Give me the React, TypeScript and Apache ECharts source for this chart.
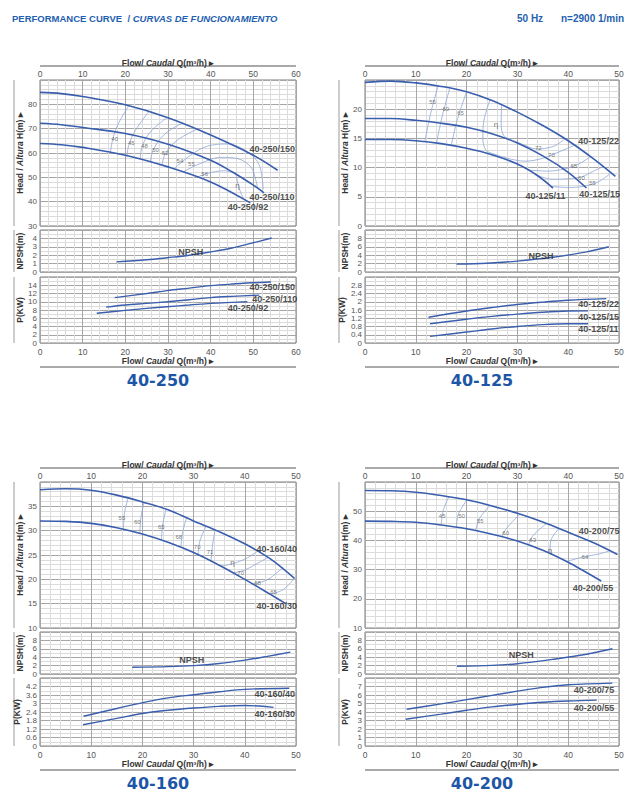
import React, { useEffect, useRef } from 'react';
import * as echarts from 'echarts';

type Pt = [number, number];
type Lab = [number, number, string];

// ---------------- 40-250 ----------------
const h250_150: Pt[] = [[0, 84.9], [5, 84.4], [10, 83.2], [20, 79.8], [30, 74.5], [40, 67.4], [50, 59.1], [55.7, 52.9]];
const h250_110: Pt[] = [[0, 72.2], [5, 71.6], [10, 70.5], [20, 68.0], [30, 63.6], [40, 57.0], [45, 52.3], [50, 46.8], [52.5, 43.6]];
const h250_92: Pt[] = [[0, 63.9], [5, 63.4], [10, 62.3], [20, 59.1], [30, 54.3], [40, 48.1], [49.3, 39.5]];
const lab250: Lab[] = [[49.0, 61.6, '40-250/150'], [49.0, 42.0, '40-250/110'], [43.9, 37.8, '40-250/92']];
const eff250: Pt[][] = [
  [[16.5, 60.3], [17.1, 66.0], [18.4, 72.2], [20.8, 79.4]],
  [[20.4, 58.6], [20.8, 63.2], [22.4, 69.4], [25.5, 77.0]],
  [[23.5, 57.4], [23.9, 62.6], [25.9, 68.7], [29.8, 74.6]],
  [[25.9, 56.4], [26.5, 61.2], [29.0, 67.4], [33.3, 72.3]],
  [[28.6, 55.0], [29.4, 59.8], [32.2, 65.3], [36.9, 69.9]],
  [[31.4, 53.5], [35.3, 59.1], [39.2, 62.8], [43.9, 63.7], [48.6, 60.5], [51.4, 55.0], [52.3, 45.0]],
  [[33.7, 52.4], [37.6, 55.7], [42.4, 58.2], [46.3, 57.7], [49.4, 54.3], [50.6, 48.8], [51.0, 45.5]],
  [[36.9, 50.1], [39.2, 51.6], [43.1, 52.7], [45.9, 51.8]],
  [[45.9, 51.6], [46.6, 46.0], [47.6, 41.3]],
];
const effLab250: Lab[] = [[17.5, 65.7, '40'], [21.4, 64.2, '45'], [24.5, 62.8, '48'], [27.1, 61.2, '50'], [29.3, 59.8, '52'], [32.8, 56.8, '54'], [35.5, 55.3, '55'], [38.6, 51.3, '56'], [46.3, 46.8, 'η']];
const np250: Pt[] = [[17.9, 1.2], [25, 1.45], [29.8, 1.7], [35, 2.0], [40, 2.4], [45, 2.85], [49.4, 3.4], [54.3, 4.05]];
const npLab250: Lab[] = [[32.3, 2.42, 'NPSH']];
const p250_150: Pt[] = [[17.5, 11.0], [25, 12.0], [29.8, 12.7], [35, 13.3], [40, 13.9], [45, 14.3], [50, 14.6], [54.1, 14.8]];
const p250_110: Pt[] = [[15.5, 8.7], [20, 9.2], [25, 9.6], [29.8, 10.0], [35, 10.5], [40, 11.0], [45, 11.3], [51.4, 11.6]];
const p250_92: Pt[] = [[13.3, 7.2], [20, 7.9], [25, 8.4], [29.8, 8.8], [35, 9.2], [40, 9.6], [45, 9.85], [48.6, 10.0]];
const pLab250: Lab[] = [[49.0, 13.5, '40-250/150'], [49.6, 10.6, '40-250/110'], [43.9, 8.5, '40-250/92']];

// ---------------- 40-125 ----------------
const h125_22: Pt[] = [[0, 24.6], [5, 24.8], [10, 24.5], [15, 23.9], [20, 23.0], [25, 21.5], [30, 19.5], [35, 17.2], [40, 14.6], [45, 11.5], [49.3, 8.5]];
const h125_15: Pt[] = [[0, 18.4], [5, 18.4], [10, 18.1], [15, 17.6], [20, 16.9], [25, 15.8], [30, 14.2], [35, 12.0], [40, 9.2], [43.6, 6.5]];
const h125_11: Pt[] = [[0, 14.8], [5, 14.8], [10, 14.6], [15, 14.1], [20, 13.3], [25, 12.2], [30, 10.6], [34, 8.6], [37, 6.5]];
const lab125: Lab[] = [[41.9, 14.6, '40-125/22'], [42.1, 5.5, '40-125/15'], [31.5, 5.1, '40-125/11']];
const eff125: Pt[][] = [
  [[11.8, 14.5], [12.9, 19.2], [14.4, 24.0]],
  [[14.1, 14.3], [15.2, 18.8], [16.7, 23.6]],
  [[17.0, 13.9], [18.2, 18.3], [20.0, 23.0]],
  [[26.9, 20.8], [26.8, 17.5], [27.3, 15.5], [29, 14.7], [31, 14.0], [33.7, 13.2], [37, 13.6], [39.3, 14.9]],
  [[24.6, 21.6], [23.4, 18.0], [23.2, 15.0], [23.8, 13.0], [25.5, 12.3], [28, 11.6], [31.5, 11.1], [35, 11.6], [38.5, 12.8], [41.4, 13.9]],
  [[32.0, 9.6], [36.0, 9.4], [41.0, 10.2], [44.3, 11.8]],
  [[33.5, 8.8], [37, 8.0], [40, 8.1], [42.6, 8.4], [45, 9.4], [46.9, 10.2]],
  [[36.5, 6.8], [40, 6.6], [43, 6.8], [46, 7.6], [48.3, 9.0]],
];
const effLab125: Lab[] = [[13.3, 21.3, '55'], [15.9, 20.1, '60'], [18.8, 19.3, '65'], [25.8, 17.3, 'η'], [34.1, 13.4, '72'], [36.7, 12.1, '70'], [41.1, 10.3, '65'], [42.6, 8.3, '60'], [44.8, 7.3, '55']];
const np125: Pt[] = [[18, 1.9], [24, 2.1], [30, 2.6], [37, 3.5], [43.6, 4.8], [48, 6.0]];
const npLab125: Lab[] = [[32.1, 3.9, 'NPSH']];
const p125_22: Pt[] = [[12.5, 1.25], [20, 1.55], [25, 1.72], [30, 1.87], [35, 1.98], [40, 2.07], [47.5, 2.15]];
const p125_15: Pt[] = [[12.8, 0.93], [20, 1.15], [25, 1.29], [30, 1.4], [35, 1.49], [40, 1.55], [43.9, 1.56]];
const p125_11: Pt[] = [[12.8, 0.32], [20, 0.53], [25, 0.68], [30, 0.8], [35, 0.89], [40, 0.93], [43.9, 0.93]];
const pLab125: Lab[] = [[41.9, 1.87, '40-125/22'], [41.9, 1.26, '40-125/15'], [41.9, 0.69, '40-125/11']];

// ---------------- 40-160 ----------------
const h160_40: Pt[] = [[0, 38.4], [5, 38.6], [10, 38.3], [15, 37.3], [20, 35.9], [25, 34.3], [30, 32.0], [35, 29.8], [40, 27.3], [45, 24.2], [49.7, 20.2]];
const h160_30: Pt[] = [[0, 32.0], [5, 31.9], [10, 31.5], [15, 30.6], [20, 29.3], [25, 27.6], [30, 25.5], [35, 22.9], [40, 20.0], [45, 16.9], [48, 15.0]];
const lab160: Lab[] = [[42.2, 26.2, '40-160/40'], [42.2, 14.5, '40-160/30']];
const eff160: Pt[][] = [
  [[16.3, 30.3], [16.5, 33.6], [17.2, 36.7]],
  [[19.5, 29.4], [19.7, 32.6], [20.3, 35.8]],
  [[23.7, 28.1], [24.0, 31.4], [24.6, 34.4]],
  [[27.5, 26.6], [27.9, 29.8], [28.6, 32.6]],
  [[30.9, 25.0], [31.2, 27.8], [32.4, 30.8]],
  [[33.4, 23.6], [33.7, 27.0], [34.2, 30.2]],
  [[35.3, 22.7], [37.9, 23.3], [40.5, 24.4], [42.5, 25.8]],
  [[37.8, 21.3], [40, 21.9], [42.5, 23.3], [44.5, 24.5]],
  [[41.5, 19.0], [44.4, 19.9], [46.4, 21.5], [47.5, 22.4]],
  [[44.8, 17.0], [47, 17.6], [48.5, 18.8], [49.7, 20.2]],
];
const effLab160: Lab[] = [[16.0, 32.7, '55'], [19.0, 31.7, '60'], [23.7, 30.7, '65'], [27.1, 28.6, '68'], [30.7, 26.6, '70'], [33.2, 25.7, '71'], [37.6, 23.5, 'η'], [39.2, 21.4, '70'], [42.5, 19.3, '68'], [45.6, 17.4, '65']];
const np160: Pt[] = [[18, 1.6], [25, 1.75], [30, 2.0], [35, 2.5], [40, 3.3], [44.4, 4.2], [48.9, 5.2]];
const npLab160: Lab[] = [[27.1, 3.36, 'NPSH']];
const p160_40: Pt[] = [[8.5, 2.1], [15, 2.65], [20.3, 3.08], [25, 3.4], [30, 3.62], [35, 3.83], [40, 4.0], [48.7, 4.08]];
const p160_30: Pt[] = [[8.4, 1.5], [15, 1.95], [20.3, 2.31], [25, 2.52], [30, 2.68], [35, 2.8], [40, 2.86], [45.6, 2.73]];
const pLab160: Lab[] = [[41.8, 3.66, '40-160/40'], [41.8, 2.26, '40-160/30']];

// ---------------- 40-200 ----------------
const h200_75: Pt[] = [[0, 57.1], [5, 57.0], [10, 56.5], [15, 55.4], [20, 53.9], [25, 51.8], [30, 49.3], [35, 46.3], [40, 42.8], [45, 39.2], [49.7, 35.2]];
const h200_55: Pt[] = [[0, 46.6], [5, 46.5], [10, 46.2], [15, 45.3], [20, 44.0], [25, 42.1], [30, 39.8], [35, 36.6], [40, 32.5], [43, 29.6], [46.5, 26.1]];
const lab200: Lab[] = [[42.0, 43.2, '40-200/75'], [40.8, 23.7, '40-200/55']];
const eff200: Pt[][] = [
  [[15.0, 45.3], [15.4, 50.2], [16.5, 55.0]],
  [[18.0, 44.5], [18.4, 49.1], [20.1, 53.9]],
  [[21.8, 43.4], [22.5, 47.4], [24.6, 52.0]],
  [[26.9, 41.3], [27.9, 44.2], [30.5, 49.0]],
  [[32.2, 38.5], [33.1, 41.7], [35.8, 45.9]],
  [[36.4, 35.7], [36.6, 40.0], [38.2, 44.1]],
  [[39.7, 32.8], [42.9, 34.3], [46.2, 35.4], [48.2, 36.5]],
];
const effLab200: Lab[] = [[15.2, 48.5, '45'], [19.0, 48.5, '50'], [22.7, 46.5, '55'], [27.7, 42.5, '60'], [33.0, 40.3, '63'], [36.4, 36.6, 'η'], [43.3, 34.3, '64']];
const np200: Pt[] = [[18.1, 1.85], [25, 2.05], [30, 2.45], [37, 3.5], [43.6, 4.7], [48.7, 6.0]];
const npLab200: Lab[] = [[28.2, 4.64, 'NPSH']];
const p200_75: Pt[] = [[8.2, 4.33], [15, 4.95], [20, 5.45], [25, 5.95], [30, 6.45], [35, 6.9], [40, 7.2], [48.7, 7.4]];
const p200_55: Pt[] = [[8.0, 3.15], [15, 3.75], [20, 4.2], [25, 4.6], [30, 4.9], [35, 5.15], [40, 5.3], [45.6, 5.4]];
const pLab200: Lab[] = [[41.0, 6.53, '40-200/75'], [41.0, 4.52, '40-200/55']];

// axis ranges: [min, max, interval, minorSplit]
const axes250 = { xMax: 60, main: [30, 90, 10, 5], np: [0, 5, 1, 2], pw: [0, 16, 2, 2] };
const axes125 = { xMax: 50, main: [0, 25, 5, 5], np: [0, 10, 2, 2], pw: [0, 3.2, 0.4, 2] };
const axes160 = { xMax: 50, main: [10, 40, 5, 5], np: [0, 10, 2, 2], pw: [0, 4.8, 0.6, 2] };
const axes200 = { xMax: 50, main: [10, 60, 10, 5], np: [0, 10, 2, 2], pw: [0, 8, 1, 2] };

const PANELS = [
  { title: '40-250', col: 0, row: 0, ax: axes250, heads: [h250_150, h250_110, h250_92], headLabels: lab250, effs: eff250, effLabels: effLab250, npsh: np250, npshLabel: npLab250, powers: [p250_150, p250_110, p250_92], powerLabels: pLab250 },
  { title: '40-125', col: 1, row: 0, ax: axes125, heads: [h125_22, h125_15, h125_11], headLabels: lab125, effs: eff125, effLabels: effLab125, npsh: np125, npshLabel: npLab125, powers: [p125_22, p125_15, p125_11], powerLabels: pLab125 },
  { title: '40-160', col: 0, row: 1, ax: axes160, heads: [h160_40, h160_30], headLabels: lab160, effs: eff160, effLabels: effLab160, npsh: np160, npshLabel: npLab160, powers: [p160_40, p160_30], powerLabels: pLab160 },
  { title: '40-200', col: 1, row: 1, ax: axes200, heads: [h200_75, h200_55], headLabels: lab200, effs: eff200, effLabels: effLab200, npsh: np200, npshLabel: npLab200, powers: [p200_75, p200_55], powerLabels: pLab200 },
];

const COLS = [{ left: 40, width: 256 }, { left: 365, width: 254 }];
const ROWS = [
  { mainTop: 80, mainH: 146, npTop: 230, npH: 42, pTop: 277, pH: 66 },
  { mainTop: 482, mainH: 146, npTop: 632, npH: 42, pTop: 678, pH: 68 },
];

const FONT = "'Liberation Sans', Arial, sans-serif";
const CURVE = '#3a5eae';
const EFF = '#8ea6d6';
const MAJ = '#a6a6a6';
const MIN = '#dcdcdc';
const BORDER = '#7d7d7d';
const BLUE = '#1f5fb0';

const nameStyle = {
  color: '#333', fontFamily: FONT, fontSize: 8.5, fontWeight: 'bold' as const,
  rich: {
    b: { color: '#333', fontFamily: FONT, fontSize: 8.5, fontWeight: 'bold' },
    i: { color: '#333', fontFamily: FONT, fontSize: 8.5, fontWeight: 'bold', fontStyle: 'italic' },
  },
};
const FLOW_NAME = '{b|Flow/ }{i|Caudal}{b| Q(m³/h) ▸}';
const HEAD_NAME = '{b|Head / }{i|Altura}{b| H(m) ▸}';

function buildOption() {
  const grid: any[] = [];
  const xAxis: any[] = [];
  const yAxis: any[] = [];
  const series: any[] = [];
  const graphic: any[] = [];

  graphic.push({
    type: 'text', x: 12, y: 18,
    style: {
      text: '{a|PERFORMANCE CURVE  / }{b|CURVAS DE FUNCIONAMIENTO}',
      textVerticalAlign: 'middle',
      rich: {
        a: { fontFamily: FONT, fontSize: 9.5, fontWeight: 'bold', fill: BLUE, color: BLUE },
        b: { fontFamily: FONT, fontSize: 9.5, fontWeight: 'bold', fontStyle: 'italic', fill: BLUE, color: BLUE },
      },
    },
  });
  graphic.push({ type: 'text', x: 517, y: 18, style: { text: '50 Hz', font: `bold 10px ${FONT}`, fill: BLUE, textVerticalAlign: 'middle' } });
  graphic.push({ type: 'text', x: 561, y: 18, style: { text: 'n=2900 1/min', font: `bold 10px ${FONT}`, fill: BLUE, textVerticalAlign: 'middle' } });

  const lineS = (gi: number, data: Pt[], color: string, width: number, z: number) => ({
    type: 'line', xAxisIndex: gi, yAxisIndex: gi, data, smooth: 0.35, symbol: 'none',
    lineStyle: { color, width }, z, silent: true,
  });
  const labelS = (gi: number, labs: Lab[], position: string, style: any, big?: any) => ({
    type: 'scatter', xAxisIndex: gi, yAxisIndex: gi, symbolSize: 1,
    itemStyle: { color: 'rgba(0,0,0,0)' }, z: 6, silent: true,
    data: labs.map((l) => {
      const item: any = { value: [l[0], l[1]], name: l[2] };
      if (big && l[2] === 'η') item.label = big;
      return item;
    }),
    label: { show: true, position, distance: 0, formatter: '{b}', ...style },
  });

  PANELS.forEach((p, pi) => {
    const c = COLS[p.col];
    const r = ROWS[p.row];
    const gi = pi * 3;
    const boxes = [
      { top: r.mainTop, height: r.mainH },
      { top: r.npTop, height: r.npH },
      { top: r.pTop, height: r.pH },
    ];
    const yCfg = [p.ax.main, p.ax.np, p.ax.pw];
    const yNames = [HEAD_NAME, 'NPSH(m)', 'P(KW)'];
    boxes.forEach((b, k) => {
      grid.push({ left: c.left, width: c.width, top: b.top, height: b.height, show: true, borderColor: BORDER, borderWidth: 1, backgroundColor: '#fff' });
      xAxis.push({
        gridIndex: gi + k, type: 'value', min: 0, max: p.ax.xMax, interval: 10,
        position: k === 0 ? 'top' : 'bottom',
        axisLine: { show: false, onZero: false }, axisTick: { show: false },
        axisLabel: { show: k !== 1, showMinLabel: true, showMaxLabel: true, margin: k === 0 ? 2 : 4, color: '#555', fontFamily: FONT, fontSize: 8.5 },
        splitLine: { show: true, lineStyle: { color: MAJ, width: 1 } },
        minorTick: { show: false, splitNumber: 5 },
        minorSplitLine: { show: true, lineStyle: { color: MIN, width: 1 } },
        name: k === 1 ? '' : FLOW_NAME, nameLocation: 'middle', nameGap: 13,
        nameTextStyle: nameStyle,
      });
      const [mn, mx, iv, ms] = yCfg[k];
      yAxis.push({
        gridIndex: gi + k, type: 'value', min: mn, max: mx, interval: iv,
        axisLine: { show: false, onZero: false }, axisTick: { show: false },
        axisLabel: { showMinLabel: true, showMaxLabel: false, margin: 3, color: '#555', fontFamily: FONT, fontSize: 8 },
        splitLine: { show: true, lineStyle: { color: MAJ, width: 1 } },
        minorTick: { show: false, splitNumber: ms },
        minorSplitLine: { show: true, lineStyle: { color: MIN, width: 1 } },
        name: yNames[k], nameLocation: 'middle', nameGap: 16, nameRotate: 90,
        nameTextStyle: nameStyle,
      });
      graphic.push({
        type: 'line', silent: true,
        shape: { x1: c.left - 26, y1: b.top, x2: c.left - 26, y2: b.top + b.height },
        style: { stroke: '#9a9a9a', lineWidth: 1 },
      });
    });

    // main
    p.effs.forEach((e) => series.push(lineS(gi, e, EFF, 0.8, 2)));
    p.heads.forEach((h) => series.push(lineS(gi, h, CURVE, 1.6, 3)));
    series.push(labelS(gi, p.effLabels, 'inside', { color: '#555', fontFamily: FONT, fontSize: 6 }, { fontSize: 8 }));
    series.push(labelS(gi, p.headLabels, 'right', { color: '#222', fontFamily: FONT, fontSize: 9, fontWeight: 'bold' }));
    // npsh
    series.push(lineS(gi + 1, p.npsh, CURVE, 1.4, 3));
    series.push(labelS(gi + 1, p.npshLabel, 'right', { color: '#222', fontFamily: FONT, fontSize: 9, fontWeight: 'bold' }));
    // power
    p.powers.forEach((pw) => series.push(lineS(gi + 2, pw, CURVE, 1.4, 3)));
    series.push(labelS(gi + 2, p.powerLabels, 'right', { color: '#222', fontFamily: FONT, fontSize: 9, fontWeight: 'bold' }));

    // decorative rules and title
    const gx1 = c.left, gx2 = c.left + c.width;
    graphic.push({ type: 'line', silent: true, shape: { x1: gx1, y1: r.mainTop - 14, x2: gx2, y2: r.mainTop - 14 }, style: { stroke: '#8c8c8c', lineWidth: 1.5 } });
    const pBottom = r.pTop + r.pH;
    graphic.push({ type: 'line', silent: true, shape: { x1: gx1, y1: pBottom + 24, x2: gx2, y2: pBottom + 24 }, style: { stroke: '#8c8c8c', lineWidth: 1.5 } });
    graphic.push({
      type: 'text', x: c.left + c.width / 2 - 10, y: pBottom + 37,
      style: { text: p.title, font: `bold 16px 'DejaVu Sans', sans-serif`, fill: '#1d56a6', textAlign: 'center', textVerticalAlign: 'middle' },
    });
  });

  return {
    animation: false,
    backgroundColor: '#fff',
    textStyle: { fontFamily: FONT },
    grid, xAxis, yAxis, series, graphic,
  };
}

export default function App() {
  const ref = useRef<HTMLDivElement>(null);
  useEffect(() => {
    if (!ref.current) return;
    const chart = echarts.init(ref.current, undefined, { renderer: 'svg' });
    chart.setOption(buildOption() as any);
    return () => chart.dispose();
  }, []);
  return <div ref={ref} style={{ position: 'absolute', left: 0, top: 0, width: 643, height: 800, background: '#fff' }} />;
}
